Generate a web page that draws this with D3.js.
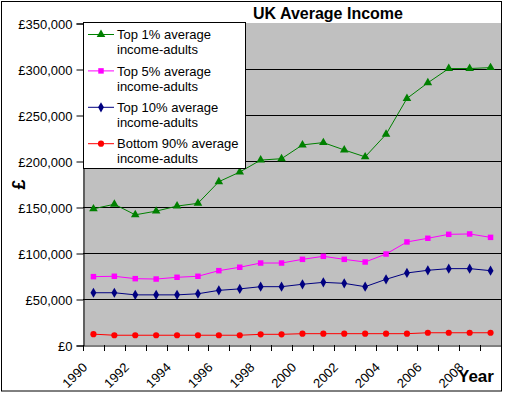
<!DOCTYPE html>
<html><head><meta charset="utf-8">
<script src="https://cdn.jsdelivr.net/npm/d3@7"></script>
<style>body{margin:0;background:#fff}svg{display:block;font-family:"Liberation Sans",Arial,sans-serif}</style>
</head><body><svg id="c" width="505" height="394"></svg>
<script>
const years = [1990,1991,1992,1993,1994,1995,1996,1997,1998,1999,2000,2001,2002,2003,2004,2005,2006,2007,2008,2009];
const top1 = [148000,153000,141500,145500,151000,154000,177500,188000,201000,202500,217500,220000,212000,204500,229000,268000,285000,300500,300500,301500];
const top5 = [74300,74700,72100,71700,73600,74700,80800,84500,89100,89100,93100,96400,93100,90200,98900,112000,116000,120300,120700,117000];
const top10 = [56800,56800,54500,54500,54500,55700,59400,61000,63400,63400,66000,68100,67000,63400,71400,78300,81200,83000,83000,80800];
const bottom90 = [11800,10600,10600,10600,10600,10600,10600,10600,11600,11600,12300,12300,12300,12300,12300,12300,13300,13300,13300,13300];
const yTicks = [0,50000,100000,150000,200000,250000,300000,350000];
const xLabels = [1990,1992,1994,1996,1998,2000,2002,2004,2006,2008];
const seriesNames = [["Top 1% average","income-adults"],["Top 5% average","income-adults"],["Top 10% average","income-adults"],["Bottom 90% average","income-adults"]];

const series = [
  {name:seriesNames[0], values:top1, color:"#008000", marker:d3.symbolTriangle, size:32},
  {name:seriesNames[1], values:top5, color:"#FF00FF", marker:d3.symbolSquare, size:30},
  {name:seriesNames[2], values:top10, color:"#000080", marker:d3.symbolDiamond, size:30},
  {name:seriesNames[3], values:bottom90, color:"#FF0000", marker:d3.symbolCircle, size:30}
];

const svg = d3.select("#c");
const L=83, R=501, T=23, B=345;
const x = d3.scaleBand().domain(years).range([L,R]);
const y = d3.scaleLinear().domain([0,350000]).range([B,T]);

// outer border
svg.append("rect").attr("x",1.5).attr("y",1.5).attr("width",500).attr("height",389.5).attr("fill","#fff").attr("stroke","#000");
// plot area
svg.append("rect").attr("x",L).attr("y",T).attr("width",R-L).attr("height",B-T).attr("fill","#C0C0C0");
// gridlines
svg.append("g").selectAll("line").data(yTicks.filter(v=>v>0&&v<350000)).join("line")
  .attr("x1",L).attr("x2",R).attr("y1",d=>Math.round(y(d))+0.5).attr("y2",d=>Math.round(y(d))+0.5)
  .attr("stroke","#000").attr("stroke-width",1);

// y axis
const yAxis = d3.axisLeft(y).tickValues(yTicks).tickSize(7).tickPadding(4)
  .tickFormat(d=>"£"+d3.format(",")(d));
const gy = svg.append("g").attr("transform",`translate(${L+0.5},0.5)`).call(yAxis);
gy.select(".domain").attr("stroke","#000");
gy.selectAll("text").attr("font-size",13).attr("fill","#000").attr("font-family","Liberation Sans, Arial, sans-serif").attr("dy","0.35em");

// x axis
const xAxis = d3.axisBottom(x).tickSize(0).tickFormat(d=>xLabels.includes(d)?d:"");
const gx = svg.append("g").attr("transform",`translate(0,${B+0.5})`).call(xAxis);
gx.select(".domain").attr("stroke","#000");
gx.selectAll("text").attr("font-size",13).attr("fill","#000").attr("font-family","Liberation Sans, Arial, sans-serif")
  .attr("text-anchor","end").attr("y",0).attr("dy","0.35em").attr("transform","translate(-8.5,19.5) rotate(-45)");
// category boundary ticks
svg.append("g").selectAll("line").data(d3.range(years.length+1)).join("line")
  .attr("x1",i=>Math.round(L+i*x.step())+0.5).attr("x2",i=>Math.round(L+i*x.step())+0.5)
  .attr("y1",B).attr("y2",B+6).attr("stroke","#000");

// lines
const line = d3.line().x((d,i)=>x(years[i])+x.bandwidth()/2).y(d=>y(d));
series.forEach(s=>{
  svg.append("path").datum(s.values).attr("d",line).attr("fill","none").attr("stroke",s.color).attr("stroke-width",1);
  svg.append("g").selectAll("path").data(s.values).join("path")
    .attr("d",d3.symbol().type(s.marker).size(s.size))
    .attr("transform",(d,i)=>`translate(${x(years[i])+x.bandwidth()/2},${y(d)})`)
    .attr("fill",s.color);
});

// legend
const lg = svg.append("g");
lg.append("rect").attr("x",83.5).attr("y",22.5).attr("width",162).attr("height",146).attr("fill","#fff").attr("stroke","#000");
series.forEach((s,i)=>{
  const ly = 34.5 + i*36.4;
  lg.append("line").attr("x1",88).attr("x2",114).attr("y1",ly).attr("y2",ly).attr("stroke",s.color);
  lg.append("path").attr("d",d3.symbol().type(s.marker).size(s.size)).attr("transform",`translate(101,${ly})`).attr("fill",s.color);
  const t = lg.append("text").attr("x",117).attr("y",ly+4.7).attr("font-size",13).attr("fill","#000");
  t.append("tspan").attr("x",117).text(s.name[0]);
  t.append("tspan").attr("x",117).attr("dy",15).text(s.name[1]);
});

// titles
svg.append("text").attr("x",253).attr("y",19).attr("font-size",16).attr("font-weight","bold").text("UK Average Income");
svg.append("text").attr("x",458).attr("y",382).attr("font-size",17).attr("font-weight","bold").text("Year");
svg.append("text").attr("transform","translate(25,184.5) rotate(-90)").attr("text-anchor","middle").attr("font-size",18).attr("font-weight","bold").text("£");
</script></body></html>
